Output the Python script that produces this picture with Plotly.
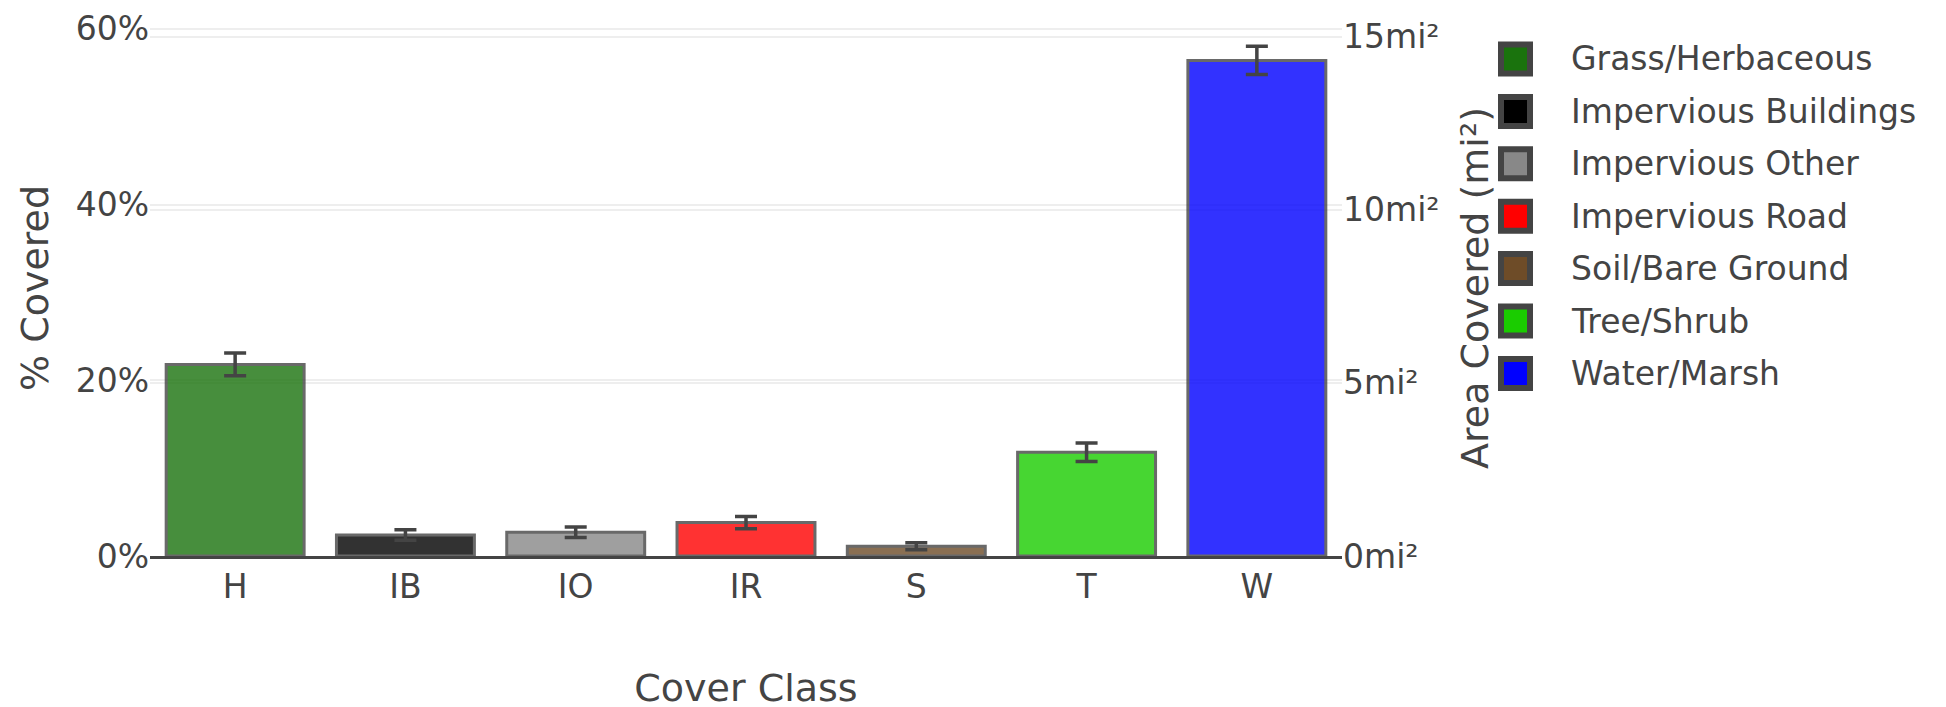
import plotly.graph_objects as go

codes = ["H", "IB", "IO", "IR", "S", "T", "W"]
names = ["Grass/Herbaceous", "Impervious Buildings", "Impervious Other",
         "Impervious Road", "Soil/Bare Ground", "Tree/Shrub", "Water/Marsh"]
pct_covered = [21.8, 2.4, 2.7, 3.8, 1.1, 11.8, 56.4]
pct_error = [1.3, 0.6, 0.6, 0.7, 0.4, 1.05, 1.6]
area_mi2 = [5.53, 0.61, 0.69, 0.96, 0.28, 3.0, 14.32]
colors = ["#1a730d", "#000000", "#888888", "#ff0000", "#6e4c28", "#1acc00", "#0000ff"]

FONT = "Verdana, DejaVu Sans, sans-serif"
INK = "#444444"

W, H = 1946, 707
ML, MR, MT, MB = 142, 612, 12, 159
PW, PH = W - ML - MR, H - MT - MB


def px_x(x):
    return (x - ML) / PW


def px_y(y):
    return (H - MB - y) / PH


fig = go.Figure()
for i, code in enumerate(codes):
    fig.add_trace(go.Bar(
        x=[code], y=[pct_covered[i]], name=names[i],
        marker=dict(color=colors[i], opacity=0.8, line=dict(color=INK, width=3)),
        error_y=dict(type="data", array=[pct_error[i]], color=INK, thickness=3.5, width=11),
        yaxis="y", showlegend=False,
    ))

fig.add_trace(go.Scatter(
    x=codes, y=area_mi2, yaxis="y2", mode="markers",
    marker=dict(opacity=0), showlegend=False, hoverinfo="skip",
))

# legend (large swatches) drawn as paper-space items
sw_cx, sw_half = 1507.5, 14.5
first_cy, step = 51, 52.4
text_x = 1561
for i, nm in enumerate(names):
    cy = first_cy + i * step
    fig.add_shape(type="rect", xref="paper", yref="paper",
                  x0=px_x(sw_cx - sw_half), x1=px_x(sw_cx + sw_half),
                  y0=px_y(cy + sw_half), y1=px_y(cy - sw_half),
                  fillcolor=colors[i], line=dict(color=INK, width=6))
    fig.add_annotation(xref="paper", yref="paper", x=px_x(text_x), y=px_y(cy),
                       xanchor="left", yanchor="middle", showarrow=False,
                       text=nm, font=dict(size=33, color=INK))

fig.update_layout(
    width=W, height=H,
    margin=dict(l=ML, r=MR, t=MT, b=MB, autoexpand=False),
    paper_bgcolor="white", plot_bgcolor="white",
    font=dict(family=FONT, size=33, color=INK),
    barmode="overlay",
    bargap=0.19,
    showlegend=False,
    xaxis=dict(
        title=dict(text="Cover Class", font=dict(size=38, color=INK), standoff=70),
        categoryorder="array", categoryarray=codes, automargin=False,
        showline=True, linecolor=INK, linewidth=2.5, showgrid=False,
        tickfont=dict(size=33), ticks="",
    ),
    yaxis=dict(
        title=dict(text="% Covered", font=dict(size=38, color=INK)),
        range=[0, 61], tick0=0, dtick=20, ticksuffix="%", automargin=False,
        showgrid=True, gridcolor="#eeeeee", gridwidth=2.4,
        zeroline=False, tickfont=dict(size=33),
    ),
    yaxis2=dict(
        title=dict(text="Area Covered (mi²)", font=dict(size=38, color=INK), standoff=22),
        overlaying="y", side="right", automargin=False,
        range=[0, 15.48], tick0=0, dtick=5, ticksuffix="mi²",
        showgrid=True, gridcolor="#eeeeee", gridwidth=2.4,
        zeroline=False, tickfont=dict(size=33),
    ),
)

fig.write_html("out.html")
